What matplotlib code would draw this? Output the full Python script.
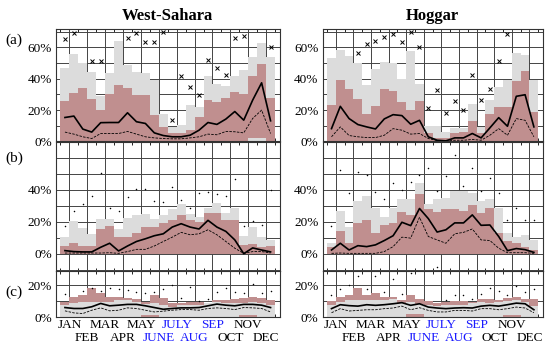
import numpy as np
import matplotlib
matplotlib.use("Agg")
import matplotlib.pyplot as plt
from matplotlib.ticker import MultipleLocator, FixedLocator, FuncFormatter, NullFormatter
from matplotlib.transforms import offset_copy

months = ["JAN", "FEB", "MAR", "APR", "MAY", "JUNE", "JULY", "AUG", "SEP", "OCT", "NOV", "DEC"]
summer_months = ["JUNE", "JULY", "AUG", "SEP"]
regions = ["West-Sahara", "Hoggar"]

# ---------------- West-Sahara (a) ----------------
ws_a_gray_lo = [0]*24
ws_a_gray_hi = [46.6, 55.5, 49.8, 44.5, 29, 43.4, 63.8, 49, 44.5, 43.4, 39, 17.4,
                9, 10.4, 23, 21.7, 42, 36.4, 35.3, 42, 45.5, 54, 63, 53.6]
ws_a_pink_lo = [0, 0, 0, 0, 0, 0, 0, 0, 0, 0, 0, 0,
                0, 0, 0, 0, 0, 0, 0, 0, 0.5, 2.5, 2, 0]
ws_a_pink_hi = [26, 31, 33.8, 27.4, 20, 30, 36, 33.8, 29.6, 29.6, 17.2, 9,
                5.5, 5.1, 7.2, 15.3, 26.4, 25.3, 27.9, 31.7, 30.2, 41.7, 49.4, 28]
ws_a_mean = [15.3, 16.2, 7.9, 6, 12, 12.1, 12.1, 18.3, 12.6, 11.5, 5.5, 3.8,
             3, 3, 4, 7.2, 12.1, 10.9, 14.3, 19.1, 13.6, 26.4, 37.4, 13.2]
ws_a_median = [6, 4.7, 3, 1.9, 5.1, 5.1, 5.1, 6.4, 4.7, 3, 2.3, 1.9,
               1.7, 1.7, 2.3, 3, 4.7, 4.3, 6.4, 6.2, 5.5, 14.7, 20, 5.1]
ws_a_max = [65.3, 69.4, np.nan, 51.3, 51.5, np.nan, np.nan, 65.7, 69, 63.6, 63.6, 69.6,
            13.6, 41.7, 34.9, 29.6, 51.9, 46.6, 42.3, 66.2, 67.2, np.nan, np.nan, 60.4]

# ---------------- Hoggar (a) ----------------
ho_a_gray_lo = [0]*24
ho_a_gray_hi = [53.3, 58.6, 54.8, 50.1, 35.7, 46.3, 50.5, 49.9, 40, 57.5, 36.8, 9.7,
                9.7, 6.1, 8.9, 8.9, 24.1, 9.3, 26.6, 34.7, 39.5, 56.2, 55.4, 39.5]
ho_a_pink_lo = [0]*24
ho_a_pink_hi = [23.5, 38.9, 33.2, 27.3, 17.8, 22.4, 33.6, 32.1, 25.2, 19.9, 25.8, 5.5,
                2.3, 2.3, 5.7, 6.1, 13.1, 5.7, 17.8, 22, 22, 38.5, 44.8, 18.8]
ho_a_mean = [8.2, 22.4, 14.6, 10.8, 9.3, 8, 14.4, 17.1, 16.5, 11, 13.5, 3,
             0.8, 0.4, 2.3, 2.3, 5.1, 2.3, 8.7, 15.2, 9.7, 28.8, 29.8, 9.3]
ho_a_median = [3, 9.3, 3.8, 3, 2.5, 2.5, 4, 8.2, 7.2, 4.7, 5.1, 1.9,
               0.6, 0.2, 0.8, 0.8, 1.3, 0.8, 4, 8.2, 4, 14.6, 13.5, 3]
ho_a_max = [np.nan, np.nan, np.nan, 56.4, 62.2, 63.8, 66.8, 68.5, 63.2, 70, 60, 21.6,
            32.6, 18.4, 25.8, 19.9, 42.1, 26.6, 33.2, 51.2, 68.5, np.nan, np.nan, np.nan]

# ---------------- West-Sahara (b) ----------------
ws_b_gray_lo = [0]*24
ws_b_gray_hi = [10.7, 20.2, 16, 12.2, 21.9, 21.9, 15.4, 22.3, 24.4, 25, 21.9, 24.4,
                27.6, 30.7, 25, 22.9, 28.6, 31.8, 25.5, 28.6, 11.2, 16.6, 10.7, 8.6]
ws_b_pink_lo = [0]*24
ws_b_pink_hi = [4.8, 6.9, 4.8, 4.8, 15.4, 17.5, 10.7, 10.7, 12.8, 16.6, 16.6, 19.2,
                21.3, 24.4, 21.3, 19.6, 25.5, 25.5, 21.3, 21.3, 5.5, 6.1, 4.4, 4.8]
ws_b_mean = [1.9, 1.3, 1.1, 1.1, 4, 6.5, 1.7, 4.8, 7.6, 9.3, 11.2, 12.4,
             16.6, 18.7, 16.6, 15.4, 20.8, 16.6, 13.9, 8.6, 0, 3.6, 2.3, 1.1]
ws_b_median = [0.4, 0.4, 0.4, 0.4, 0.4, 0.6, 0.2, 1.3, 2.7, 2.7, 4.8, 7.6,
               10.3, 13.3, 11.8, 12.4, 14.9, 11.8, 7.6, 3.4, 0.2, 1.3, 1.3, 0.4]
ws_b_max = [17.5, 26.9, 31.2, 36, 50.1, 28.2, 26.5, 35.4, 40.6, 40.6, 32.8, 32.2,
            41.7, 33.3, 28.2, 37.7, 38.7, 37.5, 36, 46.5, 17.5, 20.6, 18.1, 39.8]

# ---------------- Hoggar (b) ----------------
ho_b_gray_lo = [0]*24
ho_b_gray_hi = [6.9, 26.5, 16.6, 32.8, 36, 28.6, 22.9, 28.6, 33.9, 33.9, 44, 30.7,
                33.9, 34.9, 39.2, 39.2, 38.1, 32.8, 33.9, 28.2, 12.8, 10.7, 11.8, 8.6]
ho_b_pink_lo = [0]*24
ho_b_pink_hi = [4.4, 14.3, 6.5, 19.2, 20.8, 12.8, 18.1, 19.2, 25.9, 24.4, 37, 28,
                25.9, 28, 27.6, 26.5, 30.1, 25.5, 28.6, 12.8, 7.6, 6.5, 4.4, 2.3]
ho_b_mean = [2.3, 6.5, 2.3, 5, 4.4, 5.5, 8.2, 11.2, 19.6, 17.5, 28.2, 21.9,
             13.5, 14.9, 19.2, 19.2, 24.2, 17.7, 17.9, 10.7, 1.9, 3.2, 2.5, 0.8]
ho_b_median = [0.2, 0.4, 0.2, 0.2, 0.2, 0.2, 1.3, 4.4, 10.3, 9.7, 22.7, 10.7,
               8.6, 6.5, 12.4, 13.3, 15.4, 8.6, 8.2, 3.4, 0.6, 0.6, 0.6, 0.2]
ho_b_max = [17.5, 52.4, 37.7, 51.2, 49.3, 38.7, 33.9, 44, 39.8, 45, 49.1, 53.5,
            39.2, 48.6, 61.3, 42.3, 53.5, 39.2, 47.2, 38.1, 20.8, 28.6, 20.8, 21.3]

# ---------------- West-Sahara (c) ----------------
ws_c_pink_lo = [0]*24
ws_c_pink_hi = [9.7, 12.9, 14, 18.3, 15, 12.9, 12.5, 11.8, 11.2, 9.7, 14, 11.8,
                9, 9, 9.7, 9.7, 9, 10.8, 10.8, 11.2, 11.8, 12.5, 11.8, 10.8]
ws_c_gray_lo = [0, 0, 0, 0, 0, 0, 0, 0, 0, 1.5, 1.5, 0,
                0, 0, 0, 0, 0, 0, 0, 0, 1.2, 1.2, 0, 0]
ws_c_gray_hi = [7.5, 9, 9.7, 9.7, 9.7, 9.7, 10.8, 10.8, 9.7, 8, 8.6, 7.5,
                6.5, 7.5, 7.5, 7.5, 8.6, 9.7, 8.6, 9, 9, 9.7, 9, 7.5]
ws_c_mean = [6, 5.4, 5.4, 6.5, 8.6, 7.1, 7.5, 8, 8, 7.1, 6, 4.9,
             5.4, 5.8, 5.8, 6, 7.1, 8.2, 7.5, 7.1, 8, 8, 7.5, 6]
ws_c_median = [3.9, 2.6, 2.2, 4.3, 5.8, 3.9, 4.3, 5.8, 5.4, 4.3, 3.2, 3.7,
               4.3, 4.7, 4.7, 4.3, 5.4, 5.8, 5.4, 4.7, 6, 5.8, 5.4, 3.2]
ws_c_max = [14.6, np.nan, 16.8, 18.7, 16.6, 18.3, 17.6, 17.2, 16.1, 15, 16.1, 17.6,
            20, 11.8, 18.9, 10.1, 11.2, 15.7, 18.7, 16.1, 15, 20.9, 15, 16.8]

# ---------------- Hoggar (c) ----------------
ho_c_pink_lo = [0]*24
ho_c_pink_hi = [10.1, 13, 14.1, 18.5, 13.7, 15.2, 12.6, 13, 10.9, 14.1, 11.6, 10.1,
                8.8, 9.5, 10.1, 10.1, 9.5, 11.6, 11.6, 10.9, 12, 13, 11.6, 11.2]
ho_c_gray_lo = [0, 0, 0, 0, 0, 0, 0, 0, 0, 2, 2, 0,
                0, 0, 0, 0, 0, 0, 0, 0, 1.2, 1.2, 0, 0]
ho_c_gray_hi = [7.4, 9.5, 10.5, 10.9, 10.5, 10.9, 10.9, 11.6, 8.8, 9.5, 8.4, 7.4,
                6.7, 7.4, 7.4, 7.8, 8.8, 9.5, 8.8, 9.5, 10.1, 10.5, 9.5, 6.7]
ho_c_mean = [5.3, 7.8, 7.2, 6.9, 7.8, 7.4, 7.8, 8.4, 9.1, 7.4, 8.4, 6.3,
             5.7, 5.3, 5.7, 5.9, 5.7, 6.9, 7.4, 6.9, 7.8, 8.8, 8.4, 4.6]
ho_c_median = [2.7, 5.3, 3.8, 4.2, 4.6, 4.6, 5.3, 5.7, 6.9, 4.6, 5.9, 4.2,
               3.2, 3.2, 4.2, 4.2, 3.8, 5.3, 5.3, 4.6, 5.3, 6.3, 5.7, 2.7]
ho_c_max = [14.1, 17.9, 20, 25.7, 17.9, 26.3, 15.8, 23.8, 14.7, 27.8, np.nan, np.nan,
            32, 10.5, 14.1, 14.1, 11.6, 14.7, 18.5, 16.8, 13.7, 19.6, 15.8, 17.9]

GRAY = "#dcdcdc"
PINK = "#c08f8f"
plt.rcParams["font.family"] = ["Liberation Serif", "DejaVu Serif"]

W, H = 550, 348
fig = plt.figure(figsize=(W / 100, H / 100), dpi=100)


def rect(x0, x1, ytop, ybot):
    return [x0 / W, 1 - ybot / H, (x1 - x0) / W, (ybot - ytop) / H]


cols = [(56, 279.5), (322.7, 542.7)]
rows = [(29.3, 141.5), (141.5, 270.5), (270.5, 317)]
ylims = [(0, 0.715), (-0.105, 0.70), (0, 0.295)]
label_sets = [{0, 20, 40, 60}, {0, 20, 40}, {0, 20}]

data = {
    (0, 0): (ws_a_gray_lo, ws_a_gray_hi, ws_a_pink_lo, ws_a_pink_hi, ws_a_mean, ws_a_median, ws_a_max),
    (1, 0): (ho_a_gray_lo, ho_a_gray_hi, ho_a_pink_lo, ho_a_pink_hi, ho_a_mean, ho_a_median, ho_a_max),
    (0, 1): (ws_b_gray_lo, ws_b_gray_hi, ws_b_pink_lo, ws_b_pink_hi, ws_b_mean, ws_b_median, ws_b_max),
    (1, 1): (ho_b_gray_lo, ho_b_gray_hi, ho_b_pink_lo, ho_b_pink_hi, ho_b_mean, ho_b_median, ho_b_max),
    (0, 2): (ws_c_gray_lo, ws_c_gray_hi, ws_c_pink_lo, ws_c_pink_hi, ws_c_mean, ws_c_median, ws_c_max),
    (1, 2): (ho_c_gray_lo, ho_c_gray_hi, ho_c_pink_lo, ho_c_pink_hi, ho_c_mean, ho_c_median, ho_c_max),
}

edges = np.arange(25)
centers = np.arange(24) + 0.5

for ci, (x0, x1) in enumerate(cols):
    for ri, (yt, yb) in enumerate(rows):
        ax = fig.add_axes(rect(x0, x1, yt, yb))
        glo, ghi, plo, phi, mean, med, mx = [np.asarray(a, float) / 100 for a in data[(ci, ri)]]
        if ri < 2:
            ax.stairs(ghi, edges, baseline=glo, fill=True, color=GRAY, lw=0, zorder=1)
            ax.stairs(phi, edges, baseline=plo, fill=True, color=PINK, lw=0, zorder=2)
        else:
            ax.stairs(phi, edges, baseline=plo, fill=True, color=PINK, lw=0, zorder=1)
            ax.stairs(ghi, edges, baseline=glo, fill=True, color=GRAY, lw=0, zorder=2)
        ax.plot(centers, mean, color="black", lw=1.2, zorder=4)
        ax.plot(centers, med, color="black", lw=0.6, ls=(0, (3, 1.5)), zorder=4)
        if ri == 0:
            ax.plot(centers, mx, ls="none", marker="x", ms=2.4, mew=0.7, color="black", zorder=5)
        else:
            ax.plot(centers, mx, ls="none", marker="o", ms=1.1, mew=0, color="black",
                    zorder=5, clip_on=(ri != 2))
        ax.set_xlim(-0.5, 24.5)
        ax.set_ylim(*ylims[ri])
        ax.xaxis.set_major_locator(FixedLocator(np.arange(1, 24, 2)))
        ax.xaxis.set_minor_locator(FixedLocator(np.arange(0, 25)))
        ax.xaxis.set_major_formatter(NullFormatter())
        ax.yaxis.set_major_locator(MultipleLocator(0.1))
        ax.grid(True, which="major", color="#444444", lw=0.7, zorder=0)
        ax.set_axisbelow(True)
        ax.tick_params(axis="x", which="major", length=0)
        ax.tick_params(axis="x", which="minor", direction="in", length=2.5, width=0.6,
                       top=True, bottom=True)
        ax.tick_params(axis="y", which="major", length=0, labelsize=9.5, pad=3)
        labs = label_sets[ri]
        ax.yaxis.set_major_formatter(FuncFormatter(
            lambda v, p, labs=labs: f"{round(v * 100)}%" if round(v * 100) in labs else ""))
        for s in ax.spines.values():
            s.set_linewidth(0.8)
            s.set_color("#333333")
        if ri == 2:
            tr1 = offset_copy(ax.get_xaxis_transform(), fig=fig, x=0, y=-2.5, units="dots")
            tr2 = offset_copy(ax.get_xaxis_transform(), fig=fig, x=0, y=-15, units="dots")
            for i, (xm, m) in enumerate(zip(np.arange(1, 24, 2), months)):
                ax.text(xm, 0, m, transform=tr1 if i % 2 == 0 else tr2,
                        ha="center", va="top", fontsize=9.5,
                        color="#1a1aff" if m in summer_months else "black")
        if ri == 0:
            ax.set_title(regions[ci], fontsize=12, fontweight="bold", pad=7)

for lab, y in zip(["(a)", "(b)", "(c)"], [40, 158, 292]):
    fig.text(5 / W, 1 - y / H, lab, fontsize=11, va="center", ha="left")

fig.savefig("out.png", dpi=100)
